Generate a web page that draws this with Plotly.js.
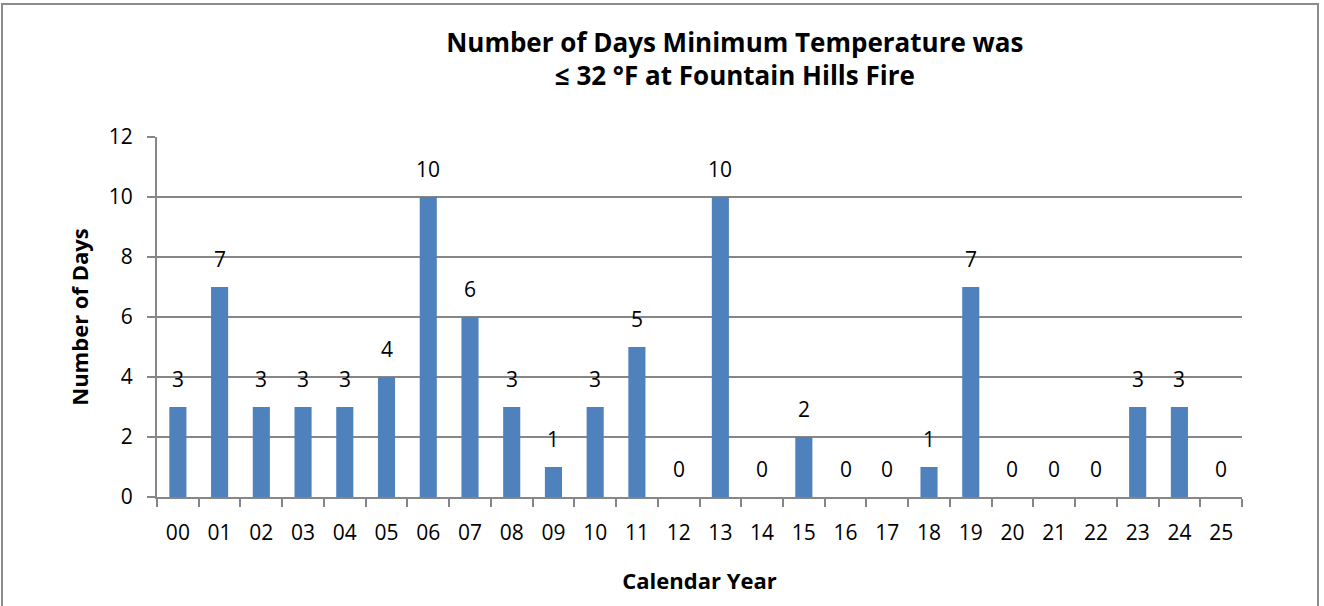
<!DOCTYPE html>
<html>
<head>
<meta charset="utf-8">
<script src="https://cdn.plot.ly/plotly-3.0.1.min.js"></script>
<style>
  html, body { margin: 0; padding: 0; background: #fff; overflow: hidden; }
  #chart { width: 1324px; height: 606px; }
  #frame { position: absolute; left: 1px; top: 3px; width: 1314px; height: 700px; border: 2px solid #8c8c8c; pointer-events: none; }
</style>
</head>
<body>
<div id="chart"></div>
<div id="frame"></div>
<script>
const years = ['00','01','02','03','04','05','06','07','08','09','10','11','12','13','14','15','16','17','18','19','20','21','22','23','24','25'];
const days = [3,7,3,3,3,4,10,6,3,1,3,5,0,10,0,2,0,0,1,7,0,0,0,3,3,0];
const titleText = 'Number of Days Minimum Temperature was<br>≤ 32 °F at Fountain Hills Fire';
const xTitle = 'Calendar Year';
const yTitle = 'Number of Days';

const font = '"Open Sans", sans-serif';

const trace = {
  type: 'bar',
  x: years,
  y: days,
  marker: { color: '#4F81BD', line: { width: 0 } },
  hoverinfo: 'x+y'
};

const labels = years.map((yr, i) => ({
  x: yr, y: days[i], xref: 'x', yref: 'y',
  text: String(days[i]), showarrow: false,
  yanchor: 'bottom', yshift: 12,
  font: { family: font, size: 21, color: '#000' }
}));

const layout = {
  width: 1324, height: 606,
  margin: { l: 157, r: 82, t: 137, b: 109 },
  paper_bgcolor: '#fff', plot_bgcolor: '#fff',
  bargap: 0.59,
  showlegend: false,
  font: { family: font, color: '#000' },
  title: {
    text: titleText,
    font: { family: font, size: 26, color: '#000', weight: 'bold' },
    x: 0.555, xanchor: 'center', y: 0.915, yanchor: 'top'
  },
  annotations: labels,
  xaxis: {
    type: 'category',
    tickson: 'boundaries',
    ticks: 'outside', ticklen: 8, tickcolor: '#868686', tickwidth: 2,
    showline: true, linecolor: '#868686', linewidth: 2,
    showgrid: false,
    tickfont: { family: font, size: 21, color: '#000' },
    ticklabelstandoff: 16,
    title: { text: xTitle, font: { family: font, size: 22, color: '#000', weight: 'bold' }, standoff: 28 }
  },
  yaxis: {
    range: [0, 12], dtick: 2,
    ticks: 'outside', ticklen: 8, tickcolor: '#868686', tickwidth: 2,
    showline: true, linecolor: '#868686', linewidth: 2,
    showgrid: true, gridcolor: '#868686', gridwidth: 2,
    zeroline: false,
    tickfont: { family: font, size: 21, color: '#000' },
    ticklabelstandoff: 10,
    title: { text: yTitle, font: { family: font, size: 22, color: '#000', weight: 'bold' }, standoff: 14 }
  }
};

Plotly.newPlot('chart', [trace], layout, { displayModeBar: false, staticPlot: true });
</script>
</body>
</html>
